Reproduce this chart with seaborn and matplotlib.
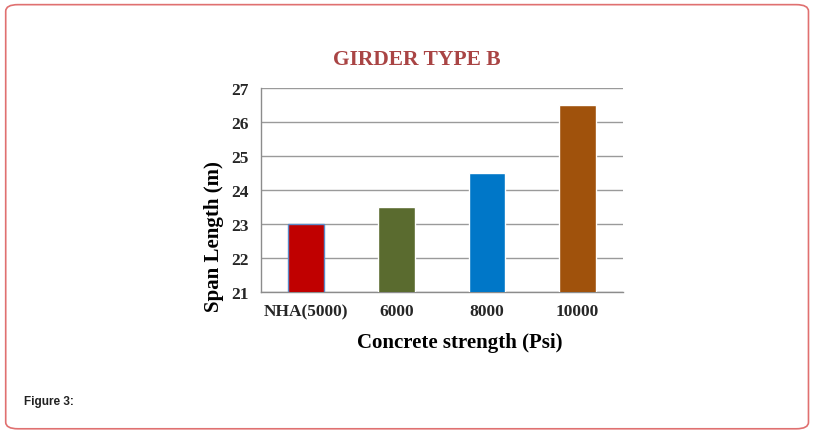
import numpy as np
import pandas as pd
import matplotlib
matplotlib.use("Agg")
import matplotlib.pyplot as plt
from matplotlib.patches import FancyBboxPatch
import seaborn as sns

# Data
categories = ["NHA(5000)", "6000", "8000", "10000"]
span_length = [23.0, 23.5, 24.5, 26.5]
bar_colors = ["#C00000", "#5A6B2F", "#0077C8", "#A0520C"]
y_ticks = [21, 22, 23, 24, 25, 26, 27]

df = pd.DataFrame({"strength": categories, "span": span_length})

sns.set_style("white")
plt.rcParams["font.family"] = ["Liberation Serif", "DejaVu Serif"]

fig = plt.figure(figsize=(8.15, 4.35), dpi=100)

# rounded frame around the figure
frame = FancyBboxPatch((0.007, 0.012), 0.985, 0.975,
                       boxstyle="round,pad=0,rounding_size=0.015",
                       transform=fig.transFigure, fill=False,
                       edgecolor="#E07070", linewidth=1.2)
fig.patches.append(frame)

ax = fig.add_axes([0.320, 0.326, 0.444, 0.469])
sns.barplot(data=df, x="strength", y="span", hue="strength",
            palette=bar_colors, saturation=1, width=0.4, legend=False,
            ax=ax, zorder=3)
# thin bluish edge on the first bar, as in the source
ax.patches[0].set_edgecolor("#5B8BC9")
ax.patches[0].set_linewidth(1.0)

ax.set_ylim(21, 27)
ax.set_yticks(y_ticks)
ax.set_xlim(-0.5, 3.5)
ax.yaxis.grid(True, color="#9A9A9A", linewidth=1.0, zorder=0)
ax.set_axisbelow(True)

for s in ["top", "right"]:
    ax.spines[s].set_visible(False)
for s in ["left", "bottom"]:
    ax.spines[s].set_color("#8C8C8C")
    ax.spines[s].set_linewidth(1.0)

ax.tick_params(axis="y", length=5, color="#8C8C8C", direction="out", pad=4,
               labelsize=12.5)
ax.set_xticks(np.arange(-0.5, 4.0, 1.0), minor=True)
ax.tick_params(axis="x", which="minor", length=6, color="#8C8C8C", direction="out")
ax.tick_params(axis="x", which="major", length=0, pad=8, labelsize=12.5)
for lab in ax.get_xticklabels() + ax.get_yticklabels():
    lab.set_fontweight("bold")

ax.set_xlabel("")
ax.set_ylabel("")

fig.text(0.512, 0.862, "GIRDER TYPE B", ha="center", va="center",
         fontsize=15.5, fontweight="bold", color="#A94444")
fig.text(0.564, 0.211, "Concrete strength (Psi)", ha="center", va="center",
         fontsize=15, fontweight="bold", color="black")
fig.text(0.262, 0.457, "Span Length (m)", ha="center", va="center",
         rotation=90, fontsize=15, fontweight="bold", color="black")
fig.text(0.030, 0.075, "Figure 3:", ha="left", va="center",
         fontsize=8.5, fontweight="bold", color="#222222",
         family=["Liberation Sans", "DejaVu Sans"])

fig.savefig("out.png", dpi=100)
